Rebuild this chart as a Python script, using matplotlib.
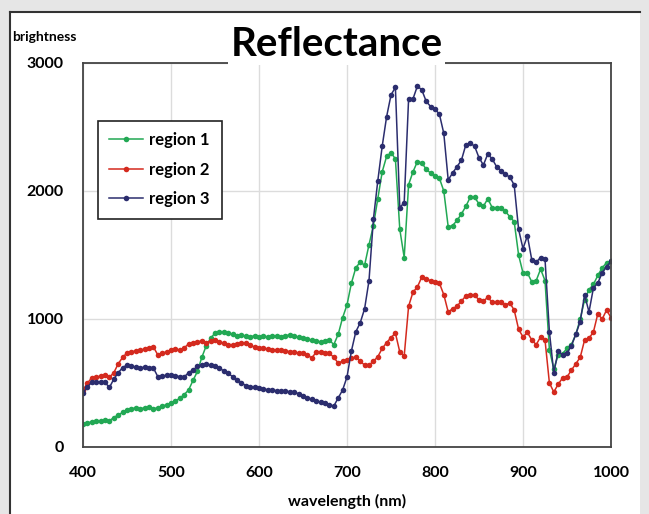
import matplotlib.pyplot as plt
from matplotlib.patches import Rectangle
from matplotlib.lines import Line2D

plt.rcParams['font.family'] = ['Lato', 'DejaVu Sans']

# wavelength grid (nm)
wavelength = list(range(400, 1001, 5))

region1 = [180, 190, 195, 200, 200, 210, 205, 230, 250, 270,
           290, 300, 305, 300, 305, 310, 300, 305, 320, 330,
           340, 360, 380, 410, 445, 520, 590, 700, 790, 850,
           890, 900, 895, 890, 880, 870, 875, 865, 860, 870,
           860, 865, 860, 870, 865, 860, 870, 875, 865, 860,
           850, 840, 835, 830, 820, 830, 835, 800, 880, 1010,
           1110, 1280, 1400, 1445, 1420, 1580, 1730, 1940, 2150, 2270,
           2300, 2250, 1700, 1480, 2050, 2150, 2230, 2220, 2170, 2140,
           2120, 2100, 2000, 1720, 1730, 1770, 1820, 1880, 1950, 1950,
           1900, 1880, 1940, 1870, 1870, 1870, 1840, 1800, 1760, 1500,
           1360, 1360, 1290, 1300, 1390, 1300, 760, 610, 720, 730,
           770, 800, 880, 1000, 1150, 1230, 1270, 1340, 1400, 1440,
           1450]

region2 = [445, 500, 540, 545, 555, 562, 545, 580, 650, 700,
           735, 745, 750, 758, 765, 775, 781, 720, 735, 742,
           760, 765, 758, 775, 805, 815, 820, 830, 812, 830,
           836, 820, 810, 800, 797, 805, 812, 810, 795, 780,
           773, 770, 765, 760, 758, 760, 750, 745, 740, 735,
           738, 720, 695, 742, 742, 738, 734, 700, 656, 670,
           680, 695, 703, 670, 640, 640, 670, 705, 770, 815,
           855, 890, 742, 711, 1100, 1210, 1250, 1328, 1310, 1300,
           1290, 1280, 1190, 1055, 1080, 1100, 1140, 1180, 1190, 1185,
           1150, 1140, 1170, 1130, 1130, 1130, 1110, 1125, 1070, 920,
           860, 895, 836, 800, 860, 836, 500, 430, 490, 540,
           547, 600, 650, 700, 836, 850, 898, 1040, 1000, 1070,
           1010]

region3 = [422, 470, 505, 510, 508, 505, 465, 530, 580, 620,
           640, 630, 625, 617, 625, 620, 617, 550, 555, 560,
           562, 555, 550, 548, 580, 602, 630, 640, 645, 640,
           635, 615, 595, 575, 550, 520, 500, 480, 469, 465,
           458, 452, 448, 445, 440, 438, 435, 432, 430, 415,
           395, 383, 375, 360, 350, 344, 330, 320, 383, 445,
           547, 750, 900, 970, 1080, 1300, 1780, 2080, 2350, 2580,
           2750, 2810, 1870, 1910, 2720, 2720, 2820, 2790, 2700, 2660,
           2640, 2600, 2450, 2086, 2141, 2190, 2240, 2360, 2375, 2350,
           2260, 2203, 2290, 2250, 2190, 2160, 2130, 2109, 2047, 1700,
           1550, 1650, 1461, 1445, 1480, 1470, 900, 578, 750, 719,
           735, 790, 880, 980, 1188, 1055, 1242, 1281, 1360, 1410,
           1450]

series = [("region 1", region1, "#22a854"),
          ("region 2", region2, "#d42a1e"),
          ("region 3", region3, "#2b2d6e")]

fig = plt.figure(figsize=(6.49, 5.14), dpi=100, facecolor="#e6e6e6")

# white panel with dark top/left border
W, H = 649, 514
fig.patches.append(Rectangle((10 / W, 0), 630 / W, 1 - 12 / H, transform=fig.transFigure,
                             facecolor="white", edgecolor="none", zorder=-5))
fig.lines.append(Line2D([10 / W, 640 / W], [1 - 12 / H, 1 - 12 / H], transform=fig.transFigure,
                        color="#333333", lw=1.5))
fig.lines.append(Line2D([10 / W, 10 / W], [0, 1 - 12 / H], transform=fig.transFigure,
                        color="#333333", lw=1.5))

ax = fig.add_axes([83 / W, 1 - 447 / H, 528 / W, 384 / H])
for name, vals, col in series:
    ax.plot(wavelength, vals, color=col, lw=1.1, marker="o", markersize=4,
            markeredgewidth=0, label=name)

ax.set_xlim(400, 1000)
ax.set_ylim(0, 3000)
ax.set_xticks(range(400, 1001, 100))
ax.set_yticks([0, 1000, 2000, 3000])
ax.grid(True, color="#dcdcdc", lw=1)
ax.set_axisbelow(True)
ax.tick_params(length=0, labelsize=11.5, pad=14)
for lab in ax.get_xticklabels() + ax.get_yticklabels():
    lab.set_fontweight("bold")
for sp in ax.spines.values():
    sp.set_color("#444444")
    sp.set_linewidth(1.3)

ax.set_xlabel("wavelength (nm)", fontsize=11.5, fontweight="bold", labelpad=10)

ax.text(0.48, 1.0, "Reflectance", transform=ax.transAxes, ha="center", va="bottom",
        fontsize=29, fontweight="bold", zorder=5,
        bbox=dict(facecolor="white", edgecolor="none", pad=1.5))

fig.text(12 / W, 1 - 37 / H, "brightness", fontsize=10, fontweight="bold", va="center")

leg = ax.legend(loc="upper left", bbox_to_anchor=(0.028, 0.85),
                prop={"weight": "bold", "size": 12}, fancybox=False, framealpha=1,
                edgecolor="#222222", handlelength=2.0, handletextpad=0.4,
                borderpad=0.7, labelspacing=0.8, borderaxespad=0)
leg.get_frame().set_linewidth(1.2)

fig.savefig("out.png", dpi=100, facecolor=fig.get_facecolor())
